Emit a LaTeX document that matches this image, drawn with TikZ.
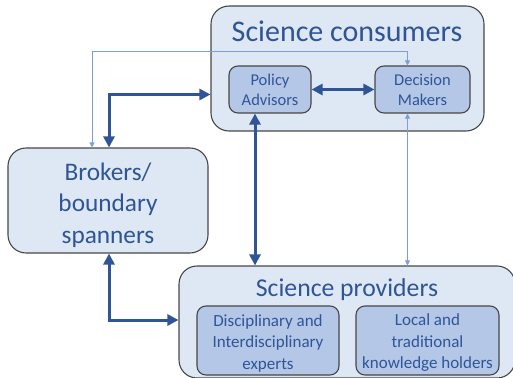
\documentclass[tikz,border=0pt]{standalone}
\usepackage{fontspec}
\setmainfont{Carlito}
\usetikzlibrary{arrows.meta}
\definecolor{txt}{HTML}{2F5597}
\definecolor{outerfill}{HTML}{DEE8F5}
\definecolor{innerfill}{HTML}{B4C7E7}
\definecolor{border}{HTML}{474747}
\definecolor{thickc}{HTML}{2F5597}
\definecolor{thinc}{HTML}{7F9ED6}
\tikzset{
  outerbox/.style={draw=border, line width=1.1pt, fill=outerfill, rounded corners=18pt, inner sep=0pt},
  innerbox/.style={draw=border, line width=1.1pt, fill=innerfill, rounded corners=9pt, inner sep=0pt},
  labeltext/.style={text=txt, align=center, inner sep=0pt},
  thickarr/.style={draw=thickc, line width=3pt, {Triangle[length=11pt,width=11pt]}-{Triangle[length=11pt,width=11pt]}},
  thinarr/.style={draw=thinc, line width=0.8pt, {Triangle[length=5pt,width=5pt]}-{Triangle[length=5pt,width=5pt]}}
}
\begin{document}
\begin{tikzpicture}[x=1pt,y=-1pt]
\useasboundingbox (0,0) rectangle (513,377);
% outer boxes
\node[outerbox, minimum width=273pt, minimum height=125pt] (cons) at (347.5,68.5) {};
\node[outerbox, minimum width=200pt, minimum height=105pt] (brk) at (108,200.5) {};
\node[outerbox, minimum width=336pt, minimum height=112pt] (prov) at (347,322) {};
% titles and labels
\node[labeltext, font=\fontsize{30}{36}\selectfont, anchor=base] (ctitle) at (347,41.5) {Science consumers};
\node[labeltext, font=\fontsize{25.7}{30}\selectfont, anchor=base] (ptitle) at (347,296) {Science providers};
\node[labeltext, font=\fontsize{25.3}{31.5}\selectfont] (brktext) at ([yshift=-4.5pt]brk.center) {Brokers/\\boundary\\spanners};
% inner boxes
\node[innerbox, minimum width=82pt, minimum height=47pt] (pol) at (270,89.5) {};
\node[innerbox, minimum width=95pt, minimum height=47pt] (dec) at (422.5,89.5) {};
\node[innerbox, minimum width=142pt, minimum height=69pt] (dis) at (268,340.5) {};
\node[innerbox, minimum width=143pt, minimum height=69pt] (loc) at (427.5,340.5) {};
\node[labeltext, font=\fontsize{16.5}{20}\selectfont] (poltext) at (pol.center) {Policy\\Advisors};
\node[labeltext, font=\fontsize{16.5}{20}\selectfont] (dectext) at (dec.center) {Decision\\Makers};
\node[labeltext, font=\fontsize{17}{21.5}\selectfont] (distext) at ([yshift=-2.5pt]dis.center) {Disciplinary and\\Interdisciplinary\\experts};
\node[labeltext, font=\fontsize{17}{21.5}\selectfont] (loctext) at ([yshift=-2.5pt]loc.center) {Local and\\traditional\\knowledge holders};
% helper positions
\coordinate (xa) at (92,0);
\coordinate (xb) at (109,0);
\coordinate (xc) at (255,0);
\coordinate (xd) at (407.5,0);
\coordinate (ya) at (0,51);
\coordinate (yb) at (0,94.5);
\coordinate (yc) at (0,320);
% connectors
\draw[thinarr] (brk.north -| xa) |- (ya -| xd) -- (dec.north -| xd);
\draw[thickarr] (brk.north -| xb) |- (cons.west |- yb);
\draw[thickarr] (pol.east) -- (dec.west);
\draw[thickarr] (pol.south -| xc) -- (prov.north -| xc);
\draw[thinarr] (dec.south -| xd) -- (prov.north -| xd);
\draw[thickarr] (brk.south -| xb) |- (prov.west |- yc);
\end{tikzpicture}
\end{document}
